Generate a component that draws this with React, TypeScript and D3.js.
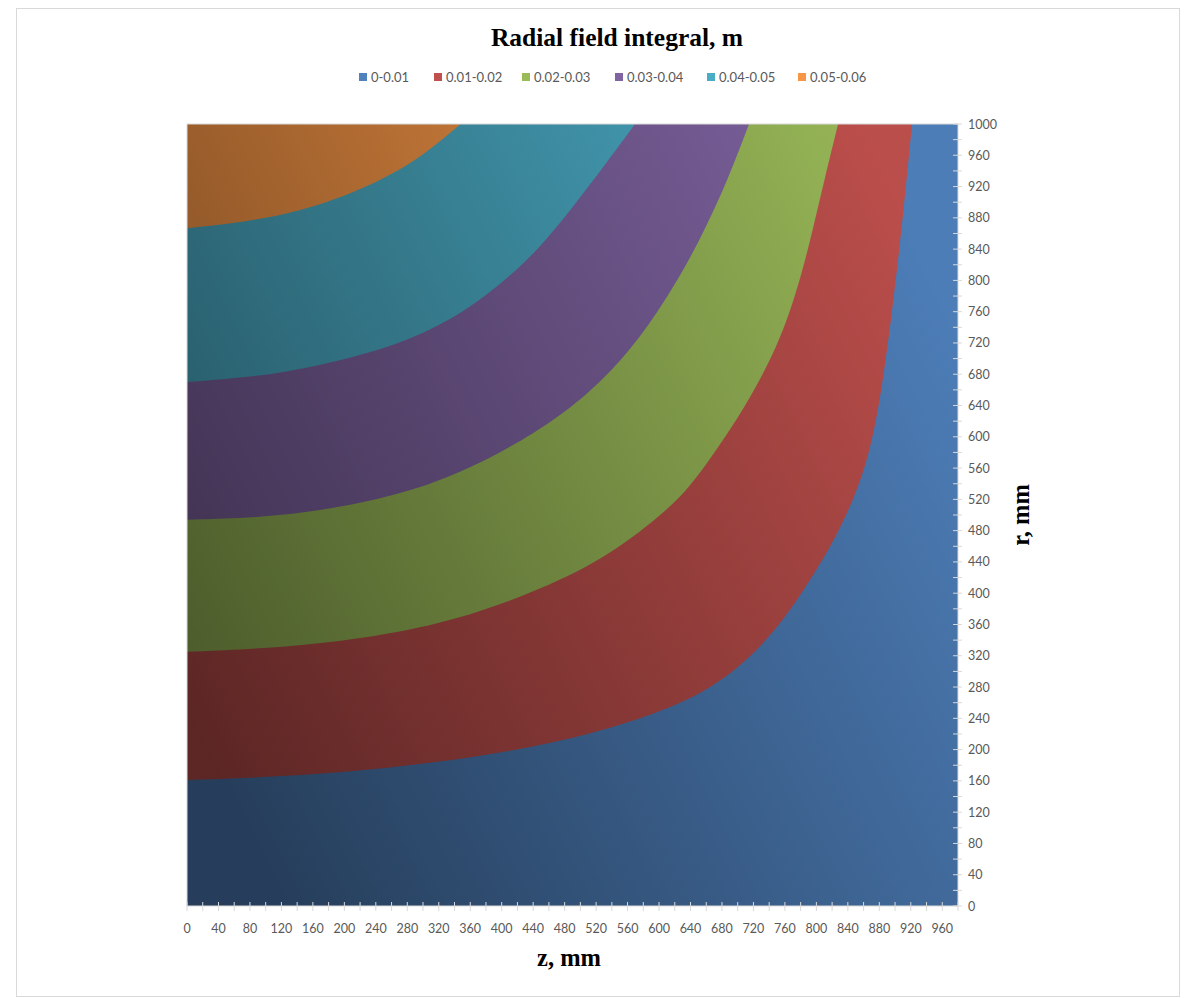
import React from "react";
import * as d3 from "d3";

type P = [number, number];

const title = "Radial field integral, m";
const xTitle = "z, mm";
const yTitle = "r, mm";

const bandLabels = ["0-0.01", "0.01-0.02", "0.02-0.03", "0.03-0.04", "0.04-0.05", "0.05-0.06"];
const bandColors = ["#4F81BD", "#C0504D", "#9BBB59", "#8064A2", "#4BACC6", "#F79646"];

// contour boundaries [z, r] (level 0.01 ... 0.05)
const b001: P[] = [[0, 161], [183, 167.5], [375, 190.5], [503, 216], [600, 247], [663.5, 276], [714, 315], [759, 366], [792, 417], [811, 448], [830, 483], [846.5, 519], [860.5, 557], [870.7, 596], [879.6, 641], [887.2, 692], [894.9, 749], [906.4, 848], [914, 922], [921.6, 1000]];
const b002: P[] = [[0, 325], [119.5, 330], [246.6, 345], [343.2, 366], [438.5, 400], [528.8, 442.5], [603.8, 500], [639.4, 536], [669.9, 579], [700.4, 624], [728.4, 673], [748.8, 714], [766.6, 760], [782, 811], [794.7, 862], [811, 932], [827.6, 1000]];
const b003: P[] = [[0, 494], [119.5, 497], [246.6, 519], [343.2, 550], [444.9, 605], [512.3, 656], [564.4, 711], [608.9, 775], [650.8, 848], [689, 932], [714.4, 1000]];
const b004: P[] = [[0, 670], [119.5, 679], [246.6, 710], [311.4, 737], [359.7, 765], [406.8, 802], [452.5, 845], [512.3, 922], [569.5, 1000]];
const b005: P[] = [[0, 866.6], [119.5, 880], [214.8, 912], [279.3, 945.6], [311.4, 969.3], [347.8, 1000]];
const boundaries = [b001, b002, b003, b004, b005];

const zMax = 980;
const rMax = 1000;
const zTicks = d3.range(0, zMax + 1, 20);
const rTicks = d3.range(0, rMax + 1, 20);

const W = 1187, H = 998;
const L = 187, R = 958, T = 124, B = 906;

export default function App() {
  const x = d3.scaleLinear().domain([0, zMax]).range([L, R]);
  const y = d3.scaleLinear().domain([0, rMax]).range([B, T]);
  const line = d3.line<P>().x(d => x(d[0])).y(d => y(d[1])).curve(d3.curveBasis);
  const bandPath = (pts: P[]) => {
    const d = line(pts) as string;
    return d + `L${x(0)},${y(rMax)}Z`;
  };
  const sans = "Lato, 'Open Sans', sans-serif";
  const serif = "'Liberation Serif', 'DejaVu Serif', serif";
  const legendX = [359, 434, 522, 615, 707, 798];
  return (
    <svg width={W} height={H} style={{ position: "absolute", left: 0, top: 0 }}>
      <defs>
        <linearGradient id="shade" x1="0" y1="0.75" x2="1" y2="0.25">
          <stop offset="0" stopColor="#000" stopOpacity={0.52} />
          <stop offset="1" stopColor="#000" stopOpacity={0.03} />
        </linearGradient>
        <clipPath id="plotClip">
          <rect x={L} y={T} width={R - L} height={B - T} />
        </clipPath>
      </defs>
      <rect x={0} y={0} width={W} height={H} fill="#fff" />
      <rect x={16.5} y={8.5} width={1163} height={988} fill="none" stroke="#d9d9d9" strokeWidth={1} />
      <text x={617} y={46} textAnchor="middle" fontFamily={serif} fontWeight="bold" fontSize={25.5} fill="#000">{title}</text>
      {bandLabels.map((lab, i) => (
        <g key={lab}>
          <rect x={legendX[i]} y={73} width={8} height={8} fill={bandColors[i]} />
          <text x={legendX[i] + 12} y={81.5} fontFamily={sans} fontSize={13} fill="#595959">{lab}</text>
        </g>
      ))}
      <g clipPath="url(#plotClip)">
        <rect x={L} y={T} width={R - L} height={B - T} fill={bandColors[0]} />
        {boundaries.map((b, i) => (
          <path key={i} d={bandPath(b)} fill={bandColors[i + 1]} />
        ))}
        <rect x={L} y={T} width={R - L} height={B - T} fill="url(#shade)" />
      </g>
      <rect x={L} y={T} width={R - L} height={B - T} fill="none" stroke="#d9d9d9" strokeWidth={1} />
      {zTicks.map(t => (
        <line key={"zt" + t} x1={x(t)} x2={x(t)} y1={B - 4} y2={B + 5} stroke="#d9d9d9" strokeWidth={1} />
      ))}
      {zTicks.filter(t => t % 40 === 0 && t <= 960).map(t => (
        <text key={"zl" + t} x={x(t)} y={933} textAnchor="middle" fontFamily={sans} fontSize={12.5} fill="#595959">{t}</text>
      ))}
      {rTicks.map(t => (
        <line key={"rt" + t} x1={R - 5} x2={R + 4} y1={y(t)} y2={y(t)} stroke="#d9d9d9" strokeWidth={1} />
      ))}
      {rTicks.filter(t => t % 40 === 0).map(t => (
        <text key={"rl" + t} x={968} y={y(t) + 4.5} textAnchor="start" fontFamily={sans} fontSize={12.5} fill="#595959">{t}</text>
      ))}
      <text x={569} y={966} textAnchor="middle" fontFamily={serif} fontWeight="bold" fontSize={24.5} fill="#000">{xTitle}</text>
      <text transform={`translate(1029,515) rotate(-90)`} textAnchor="middle" fontFamily={serif} fontWeight="bold" fontSize={24.5} fill="#000">{yTitle}</text>
    </svg>
  );
}
